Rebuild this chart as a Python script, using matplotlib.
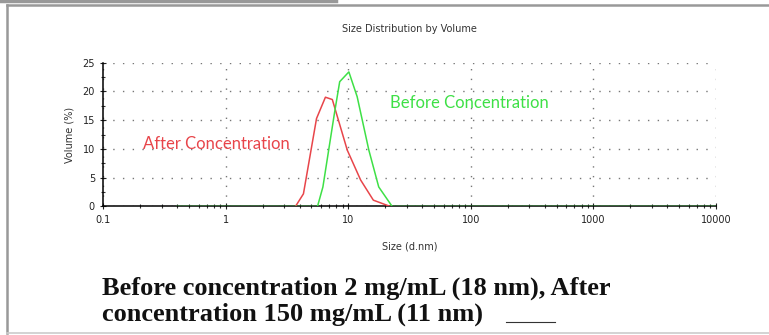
import matplotlib.pyplot as plt
from matplotlib.lines import Line2D
from matplotlib.ticker import FixedLocator, LogLocator, NullFormatter

# size (d.nm) and volume (%)
after_size = [3.7, 4.3, 5.5, 6.5, 7.4, 9.8, 12.6, 16.0, 22.0]
after_vol = [0, 2.2, 15.3, 19.0, 18.6, 9.8, 4.6, 1.1, 0]

before_size = [0.4, 5.6, 6.2, 7.7, 8.5, 10.1, 11.8, 14.7, 17.7, 22.8, 10000]
before_vol = [0, 0, 3.4, 16.2, 21.7, 23.4, 19.1, 9.8, 3.4, 0, 0]

x_ticks = [0.1, 1, 10, 100, 1000, 10000]
x_labels = ['0.1', '1', '10', '100', '1000', '10000']
y_ticks = [0, 5, 10, 15, 20, 25]

red = '#e8454a'
green = '#3ee046'

fig = plt.figure(figsize=(7.69, 3.35), dpi=100)
ax = fig.add_axes([0.1343, 0.3836, 0.7967, 0.4292])

ax.plot(after_size, after_vol, color=red, lw=1.1, zorder=3)
ax.plot(before_size, before_vol, color=green, lw=1.1, zorder=4)

ax.set_xscale('log')
ax.set_xlim(0.1, 10000)
ax.set_ylim(0, 25)
ax.set_xticks(x_ticks)
ax.set_xticklabels(x_labels)
ax.xaxis.set_minor_locator(LogLocator(base=10, subs=range(2, 10)))
ax.xaxis.set_minor_formatter(NullFormatter())
ax.set_yticks(y_ticks)
ax.yaxis.set_minor_locator(FixedLocator([2.5, 7.5, 12.5, 17.5, 22.5]))

ax.tick_params(which='major', direction='inout', length=5, width=0.8,
               labelsize=7, colors='#222222')
ax.tick_params(which='minor', direction='inout', length=3, width=0.8,
               color='#333333')
ax.grid(True, which='major', ls=(0, (1, 6)), color='#777777', lw=1.0)

for s in ['top', 'right']:
    ax.spines[s].set_visible(False)
ax.spines['left'].set_linewidth(1.1)
ax.spines['bottom'].set_linewidth(1.1)

ax.set_title('Size Distribution by Volume', fontsize=7, color='#333333', pad=22)
ax.set_xlabel('Size (d.nm)', fontsize=7, color='#333333', labelpad=12)
ax.set_ylabel('Volume (%)', fontsize=7, color='#333333', labelpad=6)

ax.text(0.84, 10.8, 'After Concentration', color=red, fontsize=12,
        family='Lato', ha='center', va='center')
ax.text(98, 18.0, 'Before Concentration', color=green, fontsize=12,
        family='Lato', ha='center', va='center')

# frame around the figure
fig.add_artist(Line2D([0, 0.437], [0.996, 0.996], color='#999999', lw=2.5))
fig.add_artist(Line2D([0.0095, 1.0], [0.984, 0.984], color='#999999', lw=1.8))
fig.add_artist(Line2D([0.0095, 0.0095], [0.006, 0.984], color='#999999', lw=1.8))
fig.add_artist(Line2D([0.0095, 1.0], [0.006, 0.006], color='#cccccc', lw=1.2))

fig.text(0.132, 0.1, 'Before concentration 2 mg/mL (18 nm), After\nconcentration 150 mg/mL (11 nm)',
         family='Liberation Serif', weight='bold', fontsize=19, color='#111111',
         ha='left', va='center', linespacing=1.12)
fig.add_artist(Line2D([0.658, 0.722], [0.04, 0.04], color='#333333', lw=0.8))

fig.savefig('out.png', dpi=100)
